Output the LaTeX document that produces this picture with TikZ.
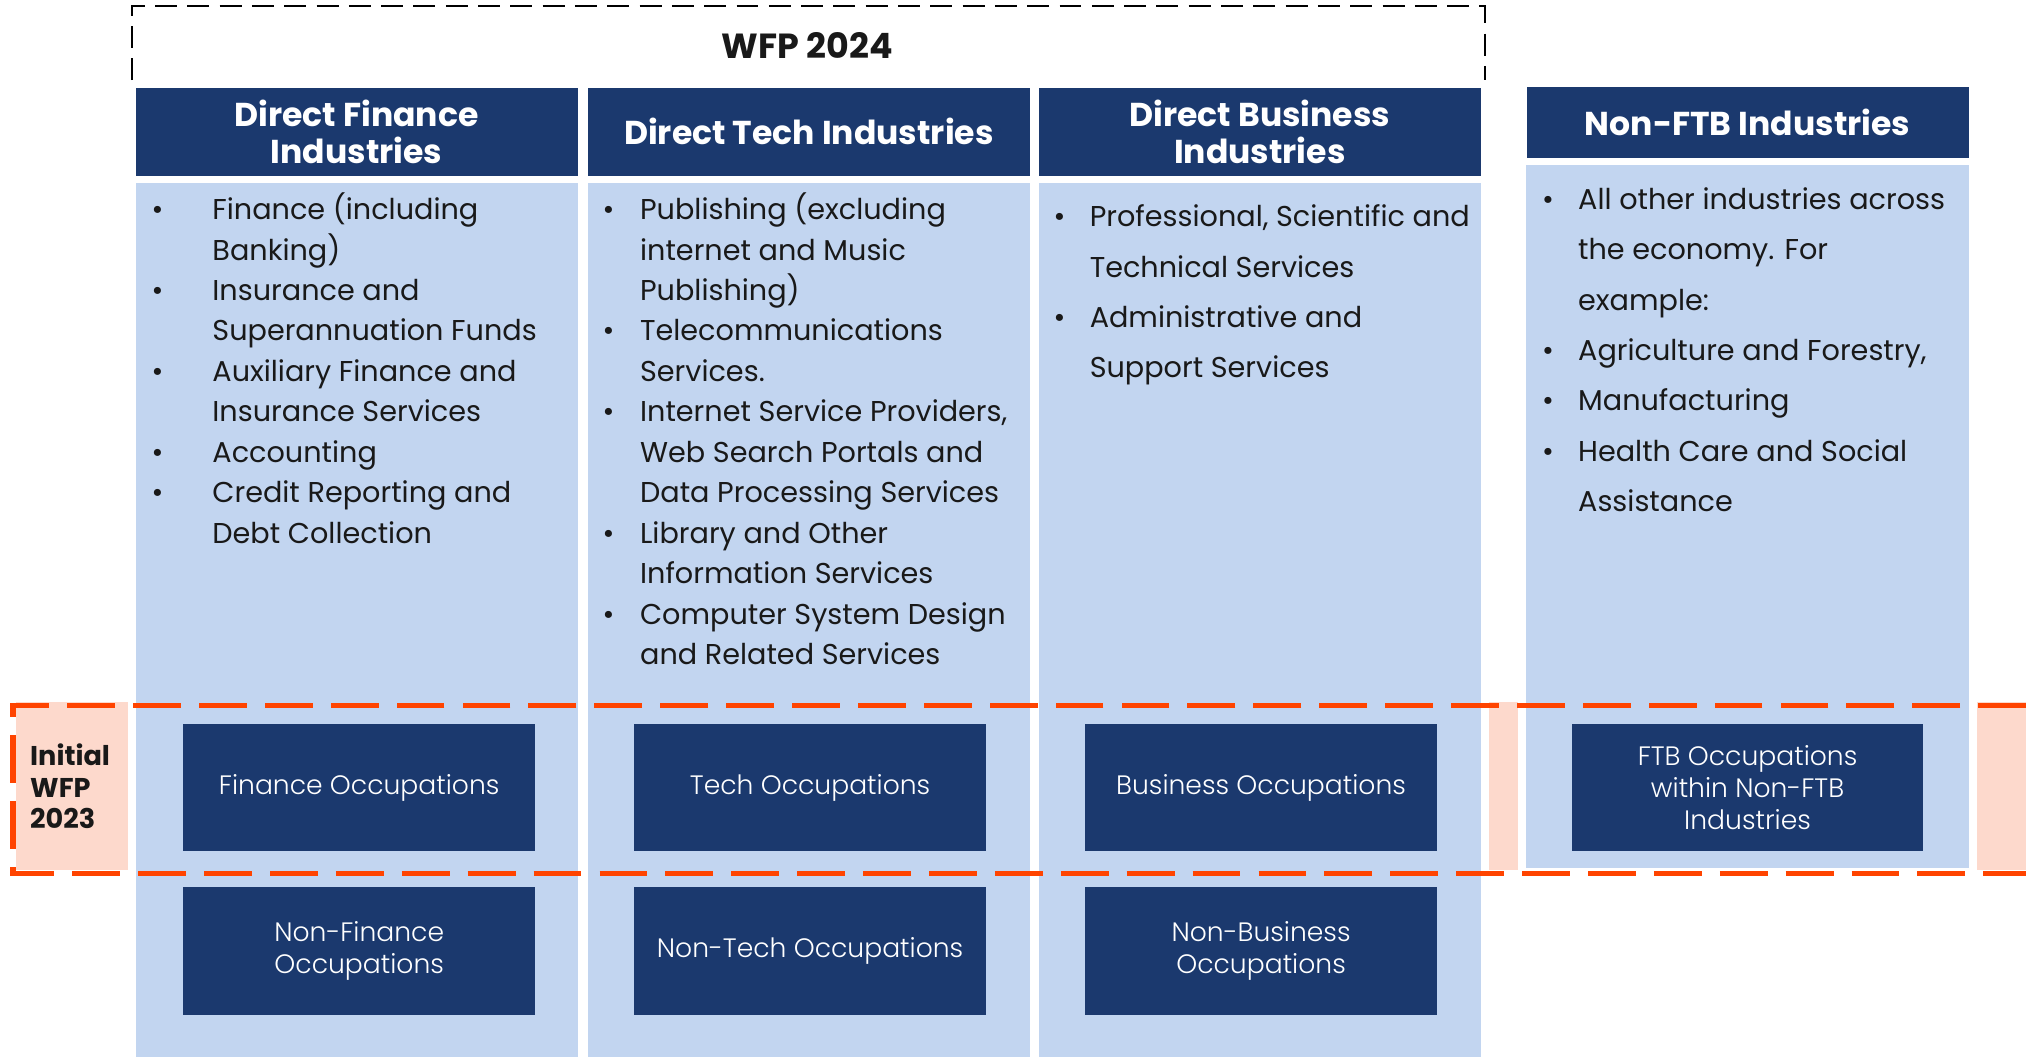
\documentclass[tikz,border=0pt]{standalone}
\usepackage{fontspec}
\setmainfont{Poppins}
\IfFontExistsTF{Poppins Light}{\newfontfamily\lightfont{Poppins Light}}{\newcommand\lightfont{}}
\usepackage{array}

\definecolor{navy}{RGB}{27,57,110}
\definecolor{paleblue}{RGB}{194,213,240}
\definecolor{peach}{RGB}{253,217,204}
\definecolor{wfporange}{RGB}{255,68,0}
\definecolor{inktext}{RGB}{25,25,25}

\tikzset{
  headbox/.style={fill=navy, text=white, inner sep=0pt, align=center,
    minimum width=171pt, font=\fontsize{12.8}{14.5}\selectfont\bfseries},
  occbox/.style={fill=navy, text=white, inner sep=0pt, align=center,
    minimum width=136pt, minimum height=49.5pt, font=\lightfont\fontsize{10.3}{12.5}\selectfont},
  itemlist/.style={anchor=base west, inner sep=0pt, text=inktext,
    font=\fontsize{11.1}{15.65}\selectfont},
  itemlistwide/.style={itemlist, font=\fontsize{11.1}{19.5}\selectfont},
  wfpdash/.style={draw=black, line width=0.8pt, dash pattern=on 8.5pt off 4pt},
  initdash/.style={draw=wfporange, line width=2.1pt, dash pattern=on 18.5pt off 7pt}
}

\begin{document}
\begin{tikzpicture}[x=0.5pt,y=0.5pt,yscale=-1,xscale=1]
\useasboundingbox (0,0) rectangle (1568,818);

%Shape: Rectangle (initial WFP band)
\fill[peach] (12,543) rectangle (1568,673);

%Shape: Rectangle (column bodies)
\foreach \x in {105,455,804} {
  \fill[white] (\x-6,136) rectangle (\x+348,818);
  \fill[paleblue] (\x,142) rectangle (\x+342,818);
}
\fill[white] (1175,122) rectangle (1530,673);
\fill[paleblue] (1181,128) rectangle (1524,672);

%Straight Lines (WFP 2024 frame)
\draw[wfpdash] (102,62) -- (102,5) -- (1149,5) -- (1149,62);

% Text Node
\node[font=\fontsize{13.5}{14.5}\selectfont\bfseries, text=inktext] (wfp24) at (625,35) {WFP 2024};

% Header Nodes
\node[headbox, minimum height=34pt] (finhead) at (276,102) {Direct Finance\\Industries};
\node[headbox, minimum height=34pt] (techhead) at (626,102) {Direct Tech Industries};
\node[headbox, minimum height=34pt] (bushead) at (975,102) {Direct Business\\Industries};
\node[headbox, minimum height=27.5pt] (nonhead) at (1352.5,94.5) {Non-FTB Industries};

% Text Node (finance list)
\node[itemlist] (finlist) at (117,170) {\begin{tabular}[t]{@{}p{23.5pt}@{}l@{}}
\textbullet & Finance (including\\
 & Banking)\\
\textbullet & Insurance and\\
 & Superannuation Funds\\
\textbullet & Auxiliary Finance and\\
 & Insurance Services\\
\textbullet & Accounting\\
\textbullet & Credit Reporting and\\
 & Debt Collection
\end{tabular}};

% Text Node (tech list)
\node[itemlist] (techlist) at (466,170) {\begin{tabular}[t]{@{}p{14.5pt}@{}l@{}}
\textbullet & Publishing (excluding\\
 & internet and Music\\
 & Publishing)\\
\textbullet & Telecommunications\\
 & Services.\\
\textbullet & Internet Service Providers,\\
 & Web Search Portals and\\
 & Data Processing Services\\
\textbullet & Library and Other\\
 & Information Services\\
\textbullet & Computer System Design\\
 & and Related Services
\end{tabular}};

% Text Node (business list)
\node[itemlistwide] (buslist) at (815,175.5) {\begin{tabular}[t]{@{}p{14pt}@{}l@{}}
\textbullet & Professional, Scientific and\\
 & Technical Services\\
\textbullet & Administrative and\\
 & Support Services
\end{tabular}};

% Text Node (non-FTB list)
\node[itemlistwide] (nonlist) at (1193,162) {\begin{tabular}[t]{@{}p{14pt}@{}l@{}}
\textbullet & All other industries across\\
 & the economy. For\\
 & example:\\
\textbullet & Agriculture and Forestry,\\
\textbullet & Manufacturing\\
\textbullet & Health Care and Social\\
 & Assistance
\end{tabular}};

% Occupation Nodes
\node[occbox] (finocc) at (278,609.5) {Finance Occupations};
\node[occbox] (techocc) at (627,609.5) {Tech Occupations};
\node[occbox] (busocc) at (976,609.5) {Business Occupations};
\node[occbox] (ftbocc) at (1352.5,609.5) {FTB Occupations\\within Non-FTB\\Industries};
\node[occbox] (nonfinocc) at (278,736) {Non-Finance\\Occupations};
\node[occbox] (nontechocc) at (627,736) {Non-Tech Occupations};
\node[occbox] (nonbusocc) at (976,736) {Non-Business\\Occupations};

% Text Node
\node[anchor=west, align=left, inner sep=0pt, text=inktext,
  font=\fontsize{10.5}{12.25}\selectfont\bfseries] (wfp23) at (23,608.5) {Initial\\WFP\\2023};

%Straight Lines (initial WFP frame)
\draw[initdash] (1568,546) -- (10,546) -- (10,676) -- (1568,676);

\end{tikzpicture}
\end{document}
